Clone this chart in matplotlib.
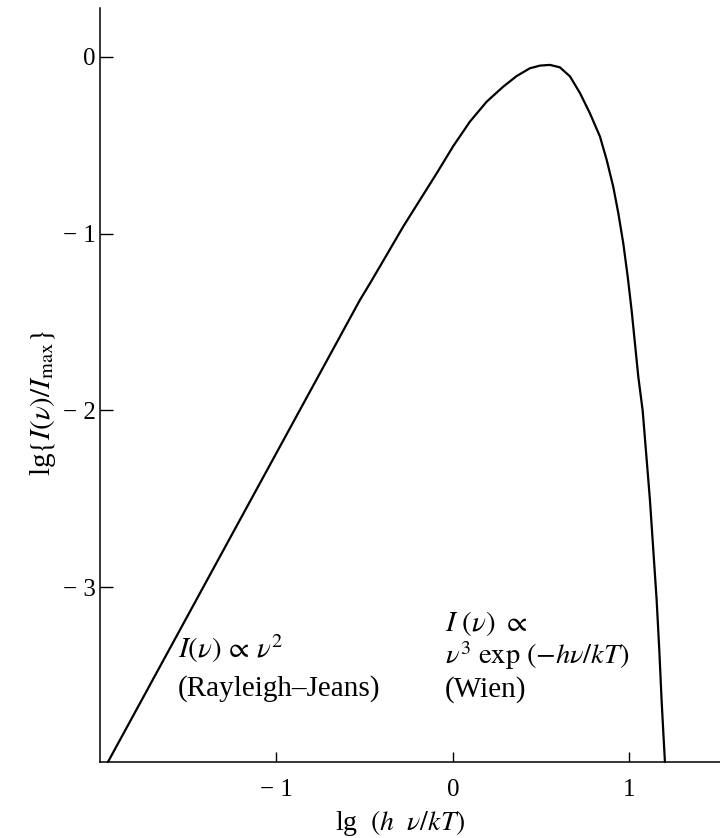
import matplotlib
matplotlib.use("Agg")
import matplotlib.pyplot as plt

# Data (lg(h nu / kT), lg(I/Imax))
lg_x = [-1.955, -1.263, -0.527, -0.470, -0.376, -0.282, -0.187, -0.092, 0.002,
        0.096, 0.191, 0.285, 0.361, 0.436, 0.493, 0.550, 0.606, 0.663,
        0.720, 0.776, 0.833, 0.871, 0.908, 0.937, 0.965, 0.990, 1.012, 1.031,
        1.050, 1.075, 1.093, 1.116, 1.135, 1.154, 1.169, 1.182, 1.192, 1.201]
lg_y = [-3.990, -2.722, -1.375, -1.281, -1.121, -0.960, -0.809, -0.658, -0.504,
        -0.366, -0.253, -0.168, -0.108, -0.064, -0.049, -0.045, -0.059, -0.110,
        -0.205, -0.319, -0.451, -0.583, -0.734, -0.885, -1.055, -1.243, -1.432, -1.620,
        -1.809, -2.003, -2.224, -2.507, -2.790, -3.073, -3.356, -3.639, -3.826, -3.990]

xticks = [-1, 0, 1]
xtick_labels = ["\u2212 1", "0", "1"]
yticks = [0, -1, -2, -3]
ytick_labels = ["0", "\u2212 1", "\u2212 2", "\u2212 3"]

plt.rcParams['font.family'] = ['Liberation Serif', 'DejaVu Serif']
plt.rcParams['mathtext.fontset'] = 'stix'

W, H = 720, 838
fig = plt.figure(figsize=(W / 100, H / 100), dpi=100)
ax = fig.add_axes([100 / W, (H - 762) / H, 620 / W, 754 / H])
ax.set_xlim(-2.0, 1.513)
ax.set_ylim(-3.99, 0.277)

ax.plot(lg_x, lg_y, color='black', lw=1.6, clip_on=False,
        solid_joinstyle='round', solid_capstyle='round')

for s in ['top', 'right']:
    ax.spines[s].set_visible(False)
for s in ['left', 'bottom']:
    ax.spines[s].set_linewidth(1.1)

ax.set_xticks(xticks)
ax.set_xticklabels(xtick_labels)
ax.set_yticks(yticks)
ax.set_yticklabels(ytick_labels)
ax.tick_params(axis='y', direction='in', length=9.5, width=1.0, pad=3, labelsize=18)
ax.tick_params(axis='x', direction='in', length=7, width=1.0, pad=12, labelsize=18)

ax.set_xlabel(r"lg  $(h\ \ \nu/kT)$", fontsize=20)
ax.set_ylabel(r"lg$\{I(\nu)/I_{\rm max}\}$", fontsize=21)
ax.xaxis.set_label_coords((400 - 100) / 620, -(808 - 762) / 754)
ax.yaxis.set_label_coords(-(100 - 58) / 620, (762 - 403) / 754)

fs = 21
ax.text(-1.558, -3.350, r"$I(\nu)\,\propto\,\nu^2$", fontsize=fs, va='center', ha='left')
ax.text(-1.558, -3.577, "(Rayleigh\u2013Jeans)", fontsize=fs, va='center', ha='left')
ax.text(-0.045, -3.205, r"$I\ (\nu)\ \propto$", fontsize=fs, va='center', ha='left')
ax.text(-0.045, -3.385, r"$\nu^3\ \mathrm{exp}\ (-h\nu/kT)$", fontsize=fs - 0.5, va='center', ha='left')
ax.text(-0.045, -3.580, "(Wien)", fontsize=fs, va='center', ha='left')

fig.savefig("out.png", dpi=100)
